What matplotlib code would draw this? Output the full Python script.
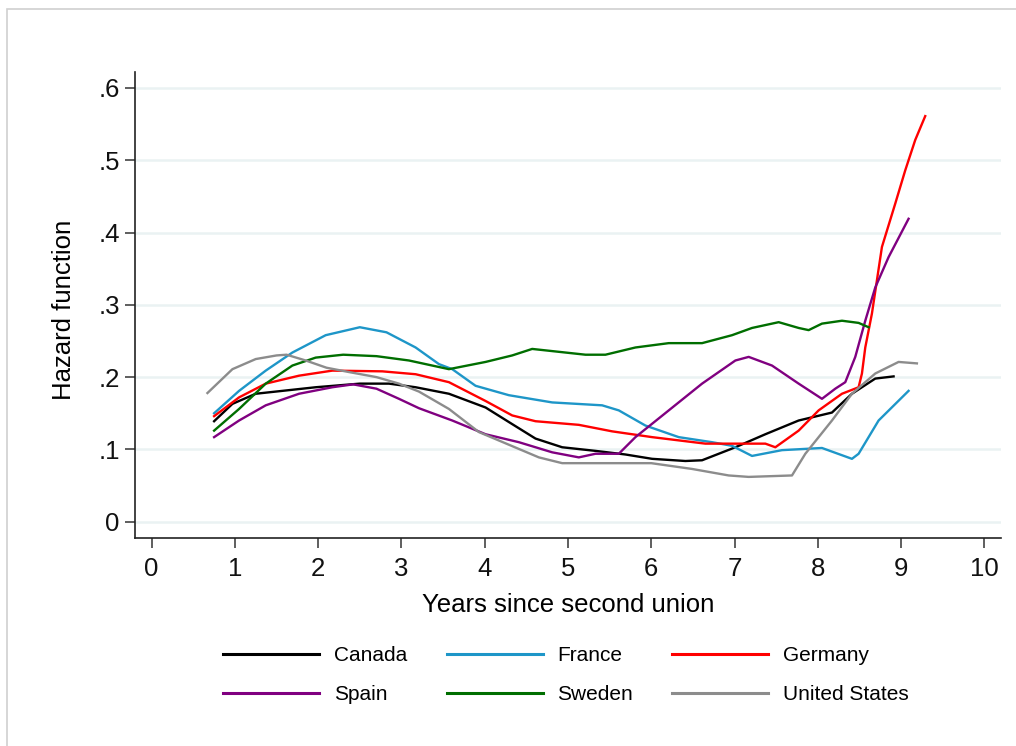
import matplotlib
matplotlib.use("Agg")
import matplotlib.pyplot as plt
from matplotlib.lines import Line2D
from matplotlib.patches import Rectangle

plt.rcParams['font.family'] = ['Liberation Sans', 'DejaVu Sans']

# smoothed hazard estimates by years since the start of the second union
canada_x = [0.75, 0.97, 1.25, 1.57, 1.97, 2.5, 2.85, 3.17, 3.57, 4.01, 4.33, 4.61, 4.93, 5.33,
            5.69, 6.01, 6.41, 6.61, 7.01, 7.37, 7.77, 8.17, 8.41, 8.69, 8.91]
canada_y = [0.139, 0.163, 0.177, 0.181, 0.186, 0.191, 0.191, 0.186, 0.177, 0.158, 0.135, 0.115,
            0.103, 0.098, 0.093, 0.087, 0.084, 0.085, 0.103, 0.121, 0.140, 0.151, 0.177, 0.198, 0.201]

france_x = [0.75, 1.05, 1.37, 1.69, 2.09, 2.5, 2.82, 3.17, 3.45, 3.61, 3.89, 4.29, 4.81, 5.41,
            5.61, 5.93, 6.33, 6.73, 6.97, 7.21, 7.57, 8.05, 8.41, 8.49, 8.73, 9.09]
france_y = [0.150, 0.181, 0.209, 0.234, 0.258, 0.269, 0.262, 0.241, 0.218, 0.211, 0.188, 0.175,
            0.165, 0.161, 0.154, 0.133, 0.117, 0.110, 0.105, 0.091, 0.099, 0.102, 0.087, 0.094,
            0.140, 0.181]

germany_x = [0.75, 1.05, 1.37, 1.77, 2.17, 2.77, 3.17, 3.57, 4.01, 4.33, 4.61, 5.13, 5.53, 6.01,
             6.65, 7.37, 7.49, 7.77, 8.01, 8.29, 8.49, 8.53, 8.57, 8.65, 8.77, 8.93, 9.05, 9.17,
             9.29]
germany_y = [0.146, 0.172, 0.191, 0.202, 0.209, 0.208, 0.204, 0.193, 0.167, 0.147, 0.139, 0.134,
             0.125, 0.117, 0.108, 0.108, 0.103, 0.126, 0.154, 0.177, 0.186, 0.205, 0.241, 0.288,
             0.380, 0.440, 0.486, 0.528, 0.561]

spain_x = [0.75, 1.05, 1.37, 1.77, 2.17, 2.42, 2.7, 2.97, 3.21, 3.61, 4.01, 4.41, 4.81, 5.13,
           5.33, 5.61, 5.81, 6.21, 6.61, 7.01, 7.17, 7.45, 7.77, 8.05, 8.21, 8.33, 8.45, 8.57,
           8.69, 8.85, 9.09]
spain_y = [0.117, 0.140, 0.161, 0.177, 0.186, 0.190, 0.184, 0.170, 0.157, 0.140, 0.121, 0.110,
           0.096, 0.089, 0.094, 0.094, 0.117, 0.154, 0.191, 0.223, 0.228, 0.216, 0.191, 0.170,
           0.184, 0.193, 0.228, 0.278, 0.324, 0.366, 0.419]

sweden_x = [0.75, 1.05, 1.37, 1.69, 1.97, 2.3, 2.7, 3.09, 3.57, 4.01, 4.33, 4.57, 4.81, 5.21,
            5.45, 5.81, 6.21, 6.61, 6.97, 7.21, 7.53, 7.77, 7.89, 8.05, 8.29, 8.49, 8.61]
sweden_y = [0.126, 0.156, 0.191, 0.216, 0.227, 0.231, 0.229, 0.223, 0.211, 0.221, 0.230, 0.239,
            0.236, 0.231, 0.231, 0.241, 0.247, 0.247, 0.258, 0.268, 0.276, 0.268, 0.265, 0.274,
            0.278, 0.275, 0.269]

us_x = [0.67, 0.97, 1.25, 1.5, 1.62, 1.85, 2.1, 2.37, 2.7, 2.97, 3.21, 3.57, 3.93, 4.65, 4.93,
        6.0, 6.49, 6.93, 7.17, 7.69, 7.85, 8.17, 8.41, 8.69, 8.97, 9.19]
us_y = [0.178, 0.211, 0.225, 0.230, 0.231, 0.223, 0.213, 0.207, 0.200, 0.191, 0.180, 0.156,
        0.124, 0.089, 0.081, 0.081, 0.073, 0.064, 0.062, 0.064, 0.094, 0.140, 0.177, 0.205,
        0.221, 0.219]

countries = ['Canada', 'France', 'Germany', 'Spain', 'Sweden', 'United States']
colors = ['#000000', '#1E96C8', '#FF0000', '#800080', '#006E00', '#8C8C8C']
series = [(canada_x, canada_y), (france_x, france_y), (germany_x, germany_y),
          (spain_x, spain_y), (sweden_x, sweden_y), (us_x, us_y)]

yticks = [0, 0.1, 0.2, 0.3, 0.4, 0.5, 0.6]
ytick_labels = ['0', '.1', '.2', '.3', '.4', '.5', '.6']
xticks = list(range(0, 11))

W, H = 1016, 746
fig = plt.figure(figsize=(W / 100, H / 100), dpi=100)
ax = fig.add_axes([135 / W, 1 - 538 / H, (1001 - 135) / W, (538 - 72) / H])

for (xs, ys), c in zip(series, colors):
    ax.plot(xs, ys, color=c, lw=1.7, zorder=3)

ax.set_xlim(-0.2, 10.2)
ax.set_ylim(-0.0225, 0.622)
ax.set_yticks(yticks)
ax.set_yticklabels(ytick_labels)
ax.set_xticks(xticks)
ax.yaxis.grid(True, color='#EAF2F3', lw=1.8, zorder=0)
ax.set_axisbelow(True)

for s in ['top', 'right']:
    ax.spines[s].set_visible(False)
for s in ['left', 'bottom']:
    ax.spines[s].set_color('#222222')
    ax.spines[s].set_linewidth(1.2)
ax.tick_params(axis='both', direction='out', length=7, width=1.1, color='#333333',
               labelsize=18.5, labelcolor='#111111')
ax.tick_params(axis='x', pad=7)
ax.tick_params(axis='y', pad=4)

ax.set_xlabel('Years since second union', fontsize=18.5, labelpad=8)
ax.set_ylabel('Hazard function', fontsize=18.5)
ax.yaxis.set_label_coords(-0.068, 0.49)

# legend laid out row-wise: 3 columns, 2 rows
order = [0, 3, 1, 4, 2, 5]
handles = [Line2D([], [], color=colors[i], lw=2.2) for i in order]
labels = [countries[i] for i in order]
fig.legend(handles, labels, loc='center', bbox_to_anchor=(566 / W, 1 - 675 / H), ncol=3,
           frameon=False, fontsize=15, handlelength=4.6, handletextpad=0.7,
           columnspacing=1.9, labelspacing=0.95, borderpad=0)

# outer graph region border
fig.patches.append(Rectangle((7 / W, -0.5), 2, 1.5 - 9 / H, transform=fig.transFigure,
                             fill=False, edgecolor='#D0D0D0', lw=1.2))

fig.savefig('out.png', dpi=100, facecolor='white')
